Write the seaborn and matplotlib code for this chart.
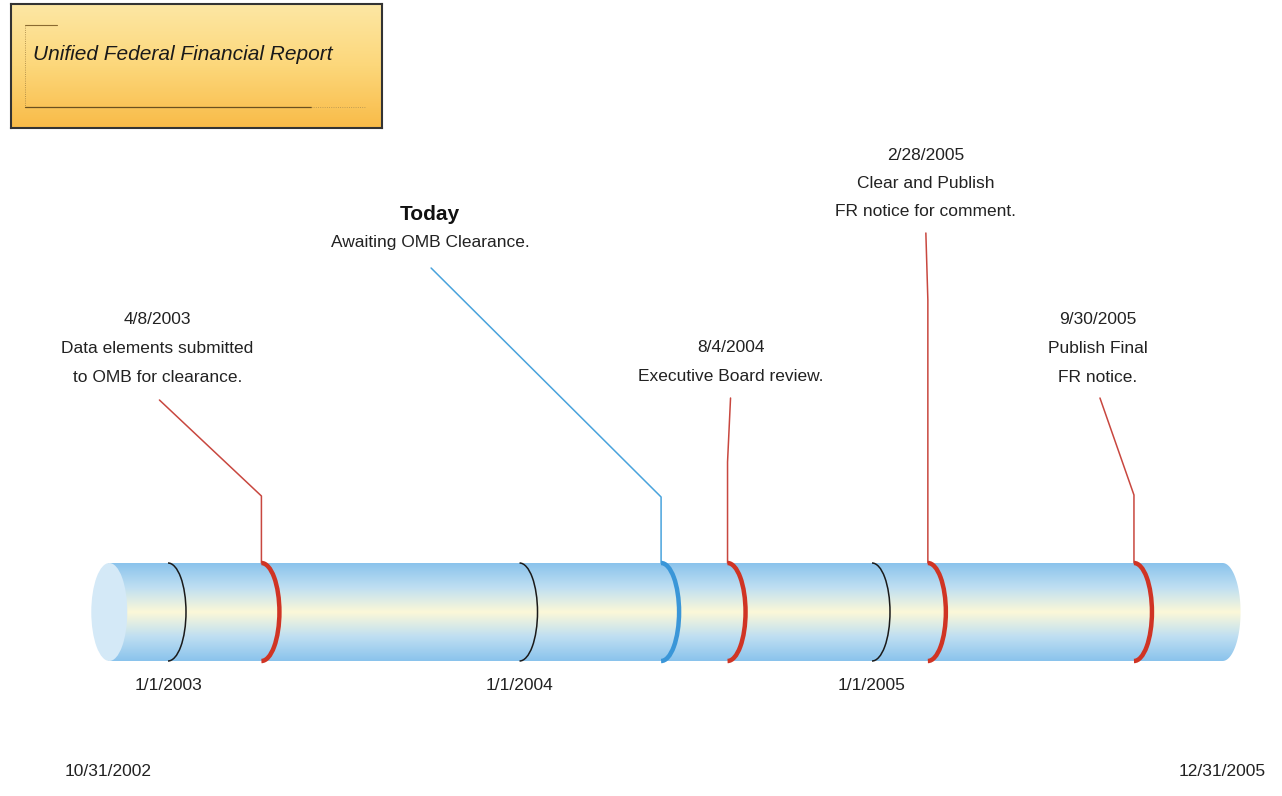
import numpy as np
import pandas as pd
import matplotlib
matplotlib.use("Agg")
import matplotlib.pyplot as plt
import matplotlib.dates as mdates
from matplotlib.patches import Arc, Ellipse, PathPatch
from matplotlib.path import Path
from matplotlib.colors import LinearSegmentedColormap
import seaborn as sns

# data
start_date = "2002-10-31"
end_date = "2005-12-31"
year_ticks = ["2003-01-01", "2004-01-01", "2005-01-01"]
year_labels = ["1/1/2003", "1/1/2004", "1/1/2005"]
event_dates = ["2003-04-08", "2004-05-27", "2004-08-04", "2005-02-28", "2005-09-30"]
event_titles = ["4/8/2003", "Today", "8/4/2004", "2/28/2005", "9/30/2005"]
event_notes = [
    ["Data elements submitted", "to OMB for clearance."],
    ["Awaiting OMB Clearance."],
    ["Executive Board review."],
    ["Clear and Publish", "FR notice for comment."],
    ["Publish Final", "FR notice."],
]
title = "Unified Federal Financial Report"

# layout (pixels)
W, H = 1282, 796
px_per_day = 352 / 365.5
ref_px = 168
label_dx = [-104, -231, 3, -2, -36]
label_y = [320, 214, 348, 155, 320]
lead_start = [(-102, 400), (-230, 268), (3, 398), (-2, 233), (-34, 398)]
lead_knee = [496, 497, 462, 300, 495]
cyl_top, cyl_bot = 563, 661
cap_w = 18

sns.set_theme(style="white")
plt.rcParams["font.family"] = ["Liberation Sans", "DejaVu Sans"]

fig = plt.figure(figsize=(W / 100, H / 100), dpi=100)
ax = fig.add_axes([0, 0, 1, 1])
ref = mdates.date2num(pd.Timestamp(year_ticks[0]))
x0 = ref - ref_px / px_per_day
ax.set_xlim(x0, x0 + W / px_per_day)
ax.set_ylim(H, 0)
ax.axis("off")

def d2n(s):
    return mdates.date2num(pd.Timestamp(s))

def days(px):
    return px / px_per_day

xs, xe = d2n(start_date), d2n(end_date)
yc = (cyl_top + cyl_bot) / 2
hh = cyl_bot - cyl_top

# cylinder body with vertical gradient
cyl_cmap = LinearSegmentedColormap.from_list(
    "cyl", ["#8ac3ec", "#bfdff2", "#fcf8d8", "#bfdff2", "#8ac3ec"])
grad = np.linspace(0, 1, 256).reshape(-1, 1)
im = ax.imshow(grad, cmap=cyl_cmap, aspect="auto",
               extent=(xs, xe + days(cap_w), cyl_bot, cyl_top), zorder=1)
t = np.linspace(np.pi / 2, -np.pi / 2, 60)
cap = np.column_stack([xe + days(cap_w) * np.cos(t), yc - hh / 2 * np.sin(t)])
verts = np.vstack([[xs, cyl_top], cap, [xs, cyl_bot], [xs, cyl_top]])
clip = PathPatch(Path(verts), transform=ax.transData, facecolor="none", edgecolor="none")
ax.add_patch(clip)
im.set_clip_path(clip)
ax.add_patch(Ellipse((xs + days(1), yc), days(2 * cap_w), hh, facecolor="#d4e9f7",
                     edgecolor="none", zorder=2))

# year rings
for d in year_ticks:
    ax.add_patch(Arc((d2n(d), yc), days(2 * cap_w), hh, theta1=-90, theta2=90,
                     color="#1a1a1a", lw=1.1, zorder=3))
for d, lab in zip(year_ticks, year_labels):
    ax.text(d2n(d), 686, lab, ha="center", va="center", fontsize=12.5, color="#222222")
ax.text(xs, 771, "10/31/2002", ha="center", va="center", fontsize=12.5, color="#222222")
ax.text(xe, 771, "12/31/2005", ha="center", va="center", fontsize=12.5, color="#222222")

# events
for i, d in enumerate(event_dates):
    xn = d2n(d)
    col = "#3a96d8" if event_titles[i] == "Today" else "#d03424"
    lcol = "#49a3dc" if event_titles[i] == "Today" else "#c8473f"
    ax.add_patch(Arc((xn, yc), days(2 * cap_w), hh, theta1=-90, theta2=90,
                     color=col, lw=3.2, zorder=4))
    sx, sy = lead_start[i]
    lead = pd.DataFrame({"x": [xn + days(sx), xn, xn],
                         "y": [sy, lead_knee[i], cyl_top]})
    sns.lineplot(data=lead, x="x", y="y", sort=False, estimator=None,
                 color=lcol, lw=1.1, ax=ax, zorder=3)
    lx = xn + days(label_dx[i])
    y = label_y[i]
    if event_titles[i] == "Today":
        ax.text(lx, y, event_titles[i], ha="center", va="center", fontsize=15,
                fontweight="bold", color="#111111")
    else:
        ax.text(lx, y, event_titles[i], ha="center", va="center", fontsize=12.5,
                color="#222222")
    for note in event_notes[i]:
        y += 28.5
        ax.text(lx, y, note, ha="center", va="center", fontsize=12.5, color="#222222")

# title box
box_ax = fig.add_axes([11 / W, 1 - 128 / H, 371 / W, 124 / H])
box_ax.set_xlim(0, 371)
box_ax.set_ylim(124, 0)
box_cmap = LinearSegmentedColormap.from_list("box", ["#fde7a4", "#fcd77a", "#f9bb48"])
box_ax.imshow(np.linspace(0, 1, 256).reshape(-1, 1), cmap=box_cmap, aspect="auto",
              extent=(0, 371, 124, 0))
for s in box_ax.spines.values():
    s.set_visible(True)
    s.set_color("#333333")
    s.set_linewidth(1.5)
box_ax.set_xticks([])
box_ax.set_yticks([])
box_ax.plot([14, 46], [21, 21], color="#8a6a30", lw=0.8)
box_ax.plot([14, 14], [21, 103], color="#a08040", lw=0.6, ls=":")
box_ax.plot([14, 300], [103, 103], color="#6a5020", lw=0.9)
box_ax.plot([300, 354], [103, 103], color="#b09050", lw=0.6, ls=":")
box_ax.text(22, 50, title, ha="left", va="center", fontsize=15, style="italic",
            color="#1a1a1a")

fig.savefig("out.png", dpi=100)
